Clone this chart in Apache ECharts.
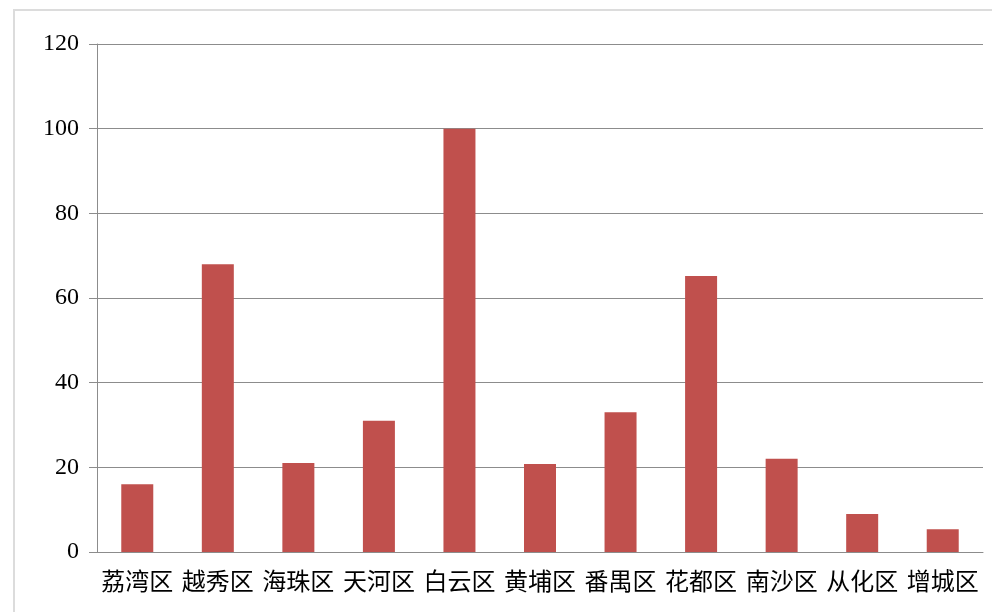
<!DOCTYPE html>
<html>
<head>
<meta charset="utf-8">
<script src="https://cdn.jsdelivr.net/npm/echarts@6/dist/echarts.min.js"></script>
<style>
  html, body { margin: 0; padding: 0; background: #fff; }
  #frame { position: absolute; left: 13px; top: 9px; width: 990px; height: 620px; border: 2px solid #dcdcdc; box-sizing: border-box; }
  #charts { position: absolute; left: 0; top: 0; width: 992px; height: 612px; }
</style>
</head>
<body>
<div id="frame"></div>
<div id="charts"></div>
<script>
// 各区数据
const districts = ['荔湾区', '越秀区', '海珠区', '天河区', '白云区', '黄埔区', '番禺区', '花都区', '南沙区', '从化区', '增城区'];
const values = [16, 68, 21, 31, 100, 20.8, 33, 65.2, 22, 9, 5.4];
const yTicks = { min: 0, max: 120, interval: 20 };

const myChart = echarts.init(document.getElementById('charts'));
const option = {
    animation: false,
    grid: {
        left: 97,
        right: 9,
        top: 44,
        bottom: 60
    },
    xAxis: {
        type: 'category',
        data: districts,
        axisLine: { lineStyle: { color: '#8c8c8c', width: 1 } },
        axisTick: { length: 6, lineStyle: { color: '#8c8c8c' } },
        axisLabel: {
            interval: 0,
            hideOverlap: false,
            color: '#000',
            fontSize: 24,
            margin: 17,
            fontFamily: '"Noto Sans CJK SC", sans-serif'
        }
    },
    yAxis: {
        type: 'value',
        min: yTicks.min,
        max: yTicks.max,
        interval: yTicks.interval,
        axisLine: { show: true, lineStyle: { color: '#8c8c8c', width: 1 } },
        axisTick: { show: true, length: 8, lineStyle: { color: '#8c8c8c' } },
        splitLine: { lineStyle: { color: '#8c8c8c', width: 1 } },
        axisLabel: {
            color: '#000',
            fontSize: 24,
            margin: 18,
            fontFamily: '"Liberation Serif", "DejaVu Serif", serif'
        }
    },
    series: [
        {
            type: 'bar',
            data: values,
            barWidth: 32,
            itemStyle: { color: '#C0504D' }
        }
    ]
};
myChart.setOption(option);
</script>
</body>
</html>
